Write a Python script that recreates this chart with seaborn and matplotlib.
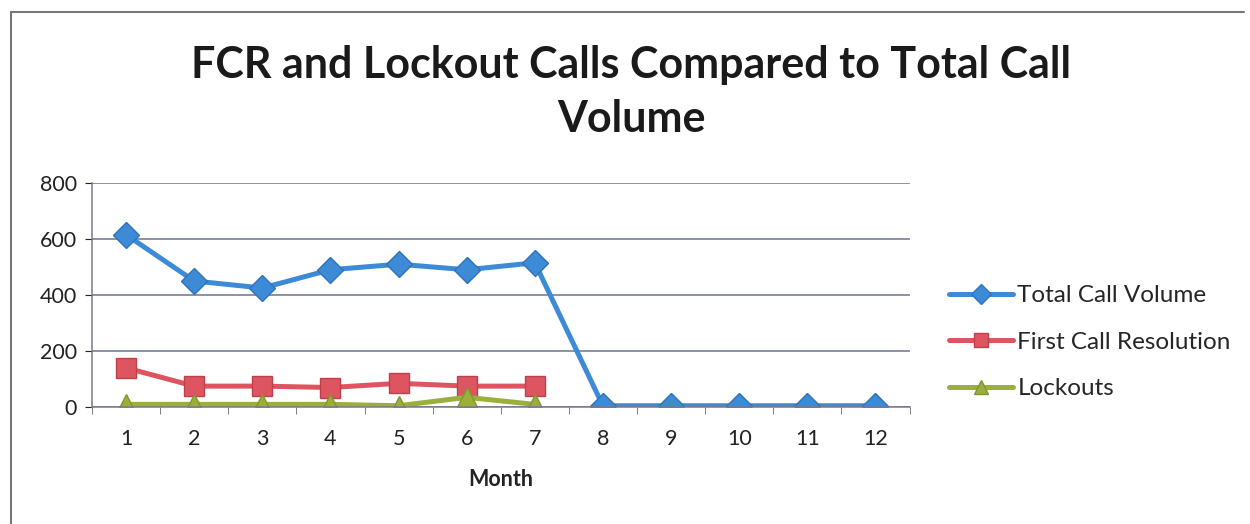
import numpy as np
import pandas as pd
import matplotlib.pyplot as plt
import seaborn as sns
from matplotlib.lines import Line2D

months = list(range(1, 13))
total_calls = [615, 450, 425, 490, 510, 490, 515, 5, 5, 5, 5, 5]
fcr_calls = [140, 75, 75, 70, 85, 75, 75] + [np.nan] * 5
lockouts = [10, 10, 10, 10, 5, 35, 10] + [np.nan] * 5

series_names = ['Total Call Volume', 'First Call Resolution', 'Lockouts']
colors = ['#3d8ad6', '#dd5560', '#9bb03c']
edge_colors = ['#2f72b8', '#c0404a', '#7f9630']
markers = ['D', 's', '^']

sns.set_style('white')
plt.rcParams['font.family'] = ['Lato', 'DejaVu Sans']

fig = plt.figure(figsize=(12.5, 5.24), dpi=100, facecolor='white', edgecolor='white', linewidth=0)
ax = fig.add_axes([0.0736, 0.223, 0.654, 0.428])

for name, vals, c, ec, m in zip(series_names, [total_calls, fcr_calls, lockouts], colors, edge_colors, markers):
    df = pd.DataFrame({'Month': months, 'Calls': vals})
    sns.lineplot(data=df, x='Month', y='Calls', ax=ax, color=c, linewidth=3.6,
                 marker=m, markersize=14 if m != 'D' else 13, markeredgecolor=ec,
                 markeredgewidth=1, label=name)

ax.set_xlim(0.5, 12.5)
ax.set_ylim(0, 800)
ax.set_yticks([0, 200, 400, 600, 800])
ax.set_xticks(months)
ax.set_xticks(np.arange(0.5, 13, 1), minor=True)
ax.tick_params(axis='x', which='major', length=0, labelsize=15.5, pad=16, colors='#222222')
ax.tick_params(axis='x', which='minor', length=5, direction='out', color='#666666', bottom=True)
ax.tick_params(axis='y', length=5, direction='out', labelsize=15.5, colors='#222222', left=True, pad=6)
ax.yaxis.grid(True, color='#6c7590', linewidth=1.1)
ax.set_axisbelow(True)
for s in ['top', 'right']:
    ax.spines[s].set_visible(False)
for s in ['left', 'bottom']:
    ax.spines[s].set_color('#7a7a8a')
    ax.spines[s].set_linewidth(1.1)

ax.set_xlabel('Month', fontsize=15.5, fontweight='bold', labelpad=14, color='#222222')
ax.set_ylabel('')

leg = ax.legend(loc='center left', bbox_to_anchor=(1.022, 0.29), frameon=False, fontsize=17.5,
                handlelength=2.6, labelspacing=1.05, handletextpad=0.2, markerscale=0.75)

fig.suptitle('FCR and Lockout Calls Compared to Total Call\nVolume', x=0.505, y=0.915,
             fontsize=31, fontweight='bold', color='#1a1a1a', linespacing=1.45)

# chart frame: top and left edges only
fig.add_artist(Line2D([0.009, 0.995], [0.977, 0.977], transform=fig.transFigure,
                      color='#777777', linewidth=1.5))
fig.add_artist(Line2D([0.009, 0.009], [0.0, 0.977], transform=fig.transFigure,
                      color='#777777', linewidth=1.5))

fig.savefig('out.png', dpi=100, facecolor='white')
